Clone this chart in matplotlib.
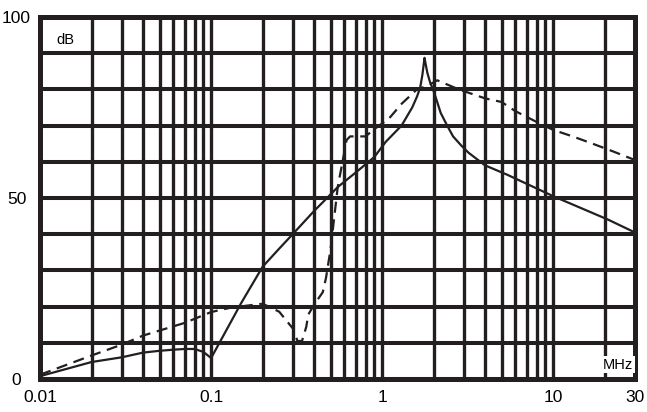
import numpy as np
import matplotlib as mpl
mpl.use('Agg')
import matplotlib.pyplot as plt
from matplotlib.ticker import LogLocator, NullFormatter, FixedLocator

plt.rcParams['font.family'] = ['Liberation Sans', 'DejaVu Sans']
INK = '#231f20'

# solid curve (MHz, dB)
solid_f = [0.01, 0.02, 0.03, 0.04, 0.05, 0.06, 0.07, 0.08, 0.09, 0.1, 0.15,
           0.2, 0.25, 0.3, 0.4, 0.5, 0.55, 0.7, 0.9, 1.05, 1.3, 1.5, 1.6,
           1.67, 1.72, 1.77, 1.8, 1.84, 1.9, 2.0, 2.1, 2.2, 2.4, 2.6, 2.9,
           3.2, 4.0, 5.4, 10, 21, 30]
solid_db = [0.8, 4.7, 6.0, 7.3, 7.8, 8.1, 8.3, 8.3, 7.5, 5.8, 21,
            31, 36, 40, 46.4, 51, 53, 57, 61.3, 65.5, 70, 75, 78,
            80.5, 84, 88.7, 86.8, 84.5, 82.2, 79.5, 76.5, 73.5, 70, 67, 64.5,
            62.5, 59, 56.4, 50.5, 44, 40.5]

# dashed curve (MHz, dB)
dash_f = [0.01, 0.02, 0.03, 0.04, 0.07, 0.1, 0.13, 0.2, 0.25, 0.3, 0.32,
          0.34, 0.36, 0.37, 0.4, 0.45, 0.47, 0.5, 0.52, 0.55, 0.62, 0.65,
          0.8, 0.9, 1.1, 1.3, 1.6, 1.85, 2.1, 2.8, 4.0, 5.0, 6.0, 8.0, 10,
          13, 17, 22, 30]
dash_db = [1.2, 6.5, 9.5, 12, 15.5, 18.5, 19.7, 20.8, 18.6, 14, 10.5,
           10.5, 14.4, 17.8, 20.5, 24, 28, 36, 43, 53, 66, 67,
           67, 69, 72, 76, 80, 81, 82.5, 80, 77.5, 76.5, 74, 71, 68.8,
           67, 65, 63, 60.5]

x_labels = ['0.01', '0.1', '1', '10', '30']
x_label_pos = [0.01, 0.1, 1, 10, 30]
y_labels = ['0', '50', '100']
y_label_pos = [0, 50, 100]

fig = plt.figure(figsize=(6.47, 4.12), dpi=100)
ax = fig.add_axes([0.062, 0.080, 0.919, 0.879])

ax.set_xscale('log')
ax.set_xlim(0.01, 30)
ax.set_ylim(0, 100)

# grid: every 1..9 x decade, every 10 dB
ax.xaxis.set_major_locator(FixedLocator(x_label_pos))
ax.xaxis.set_minor_locator(LogLocator(base=10, subs=np.arange(1, 10)))
ax.xaxis.set_minor_formatter(NullFormatter())
ax.set_xticklabels(x_labels)
ax.yaxis.set_major_locator(FixedLocator(y_label_pos))
ax.yaxis.set_minor_locator(FixedLocator(np.arange(0, 101, 10)))
ax.set_yticklabels(y_labels)

ax.xaxis.grid(True, which='both', color=INK, lw=2.4)
ax.yaxis.grid(True, which='both', color=INK, lw=2.9)
ax.set_axisbelow(True)

ax.tick_params(which='both', length=0)
ax.tick_params(axis='x', labelsize=12.5, pad=8, labelcolor='black')
ax.tick_params(axis='y', labelsize=12.5, pad=17, labelcolor='black')
for lab in ax.get_yticklabels():
    lab.set_horizontalalignment('center')

for s in ax.spines.values():
    s.set_linewidth(3.6)
    s.set_color(INK)

ax.plot(solid_f, solid_db, color=INK, lw=1.6, zorder=5)
ax.plot(dash_f, dash_db, color=INK, lw=1.6, ls=(0, (5, 3)), zorder=5)

ax.text(0.042, 0.935, 'dB', transform=ax.transAxes, fontsize=10.5,
        ha='center', va='center', zorder=6)
ax.text(0.972, 0.04, 'MHz', transform=ax.transAxes, fontsize=10.5,
        ha='center', va='center', zorder=6,
        bbox=dict(facecolor='white', edgecolor='none', pad=1))

fig.savefig('out.png', dpi=100)
